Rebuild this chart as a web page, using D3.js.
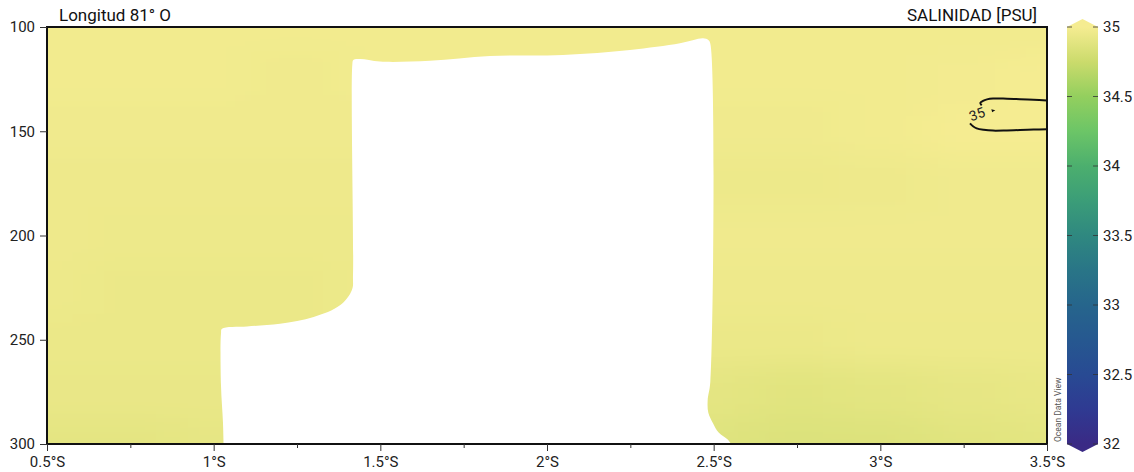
<!DOCTYPE html>
<html><head><meta charset="utf-8">
<script src="https://cdn.jsdelivr.net/npm/d3@7"></script>
<style>
html,body{margin:0;padding:0;background:#fff;}
svg{display:block;font-family:Roboto,"DejaVu Sans",sans-serif;}
</style></head>
<body>
<svg id="chart" width="1134" height="472"></svg>
<script>
// ---- data ----
const title = "Longitud 81° O";
const variableLabel = "SALINIDAD [PSU]";
const lats = [0.5, 0.75, 1.0, 1.25, 1.5, 1.75, 2.0, 2.25, 2.5, 2.75, 3.0, 3.25, 3.5];
const depths = [100, 125, 150, 175, 200, 225, 250, 275, 300];
const salinity = [
  [34.98, 34.98, 34.98, 34.98, 34.98, 34.98, 34.98, 34.98, 34.98, 34.98, 34.98, 34.98, 34.98],
  [34.98, 34.98, 34.98, 34.97, 34.98, 34.98, 34.98, 34.98, 34.98, 34.98, 34.98, 34.99, 35.00],
  [34.97, 34.97, 34.97, 34.97, 34.97, 34.97, 34.97, 34.97, 34.97, 34.97, 34.98, 35.00, 35.01],
  [34.96, 34.96, 34.96, 34.96, 34.96, 34.96, 34.96, 34.96, 34.95, 34.95, 34.96, 34.97, 34.97],
  [34.96, 34.95, 34.95, 34.95, 34.95, 34.96, 34.96, 34.96, 34.97, 34.97, 34.97, 34.97, 34.97],
  [34.95, 34.94, 34.94, 34.94, 34.95, 34.95, 34.95, 34.96, 34.96, 34.96, 34.96, 34.96, 34.96],
  [34.94, 34.94, 34.94, 34.94, 34.94, 34.94, 34.94, 34.94, 34.94, 34.94, 34.95, 34.95, 34.95],
  [34.93, 34.93, 34.93, 34.93, 34.93, 34.93, 34.93, 34.91, 34.90, 34.88, 34.89, 34.91, 34.92],
  [34.90, 34.90, 34.91, 34.91, 34.91, 34.91, 34.90, 34.89, 34.87, 34.85, 34.86, 34.88, 34.89]
];
// no-data (white) region outline
const maskLat =   [1.030, 1.028, 1.022, 1.022, 1.025, 1.10, 1.199, 1.30, 1.379, 1.415, 1.418, 1.416, 1.419, 1.440, 1.499, 1.649, 1.829, 2.048, 2.249, 2.399, 2.468, 2.484, 2.490, 2.490, 2.482, 2.484, 2.498, 2.515, 2.543, 2.56];
const maskDepth = [302,   290,   272,   247,   244.7, 243.6, 242.3, 239.1, 233.5, 226,   219,   118,   115.8, 115.4, 116.6, 116.2, 113.9, 113.4, 111.0, 107.8, 105.4, 106.2, 108,   270,   279,   285,   290,   294.5, 298,   302];
// 35 PSU contour
const contourUpperLat =   [3.304, 3.300, 3.308, 3.320, 3.338, 3.380, 3.419, 3.460, 3.500];
const contourUpperDepth = [137.6, 136.4, 135.4, 134.7, 134.3, 134.4, 134.6, 134.9, 135.2];
const contourLowerLat =   [3.269, 3.278, 3.289, 3.310, 3.338, 3.380, 3.419, 3.460, 3.500];
const contourLowerDepth = [146.2, 147.6, 148.6, 149.3, 149.7, 149.6, 149.4, 149.2, 149.1];
const contourLabel = "35";
// axis ticks
const xTicks = [0.5, 1, 1.5, 2, 2.5, 3, 3.5];
const xMinorTicks = [0.75, 1.25, 1.75, 2.25, 2.75, 3.25];
const yTicks = [100, 150, 200, 250, 300];
const cbTicks = [32, 32.5, 33, 33.5, 34, 34.5, 35];
// colour bar (ODV-like palette)
const cbStops = [32, 32.25, 32.5, 32.75, 33, 33.25, 33.5, 33.75, 34, 34.25, 34.5, 34.75, 35];
const cbColors = ["#3a2a85", "#2f3a92", "#284a93", "#265890", "#26658c", "#297587", "#2f8880", "#3b9d78", "#4caf6e", "#6cc567", "#93cf5e", "#cbdb6c", "#f5ec91"];

// ---- layout ----
const W = 1134, H = 472;
const L = 47, R = 1047, T = 27, B = 444;
const svg = d3.select("#chart");
const x = d3.scaleLinear().domain([0.5, 3.5]).range([L, R]);
const y = d3.scaleLinear().domain([100, 300]).range([T, B]);
const color = d3.scaleLinear().domain(cbStops).range(cbColors).clamp(true);

const defs = svg.append("defs");
defs.append("clipPath").attr("id", "plotclip").append("rect")
  .attr("x", L).attr("y", T).attr("width", R - L).attr("height", B - T);
const f = defs.append("filter").attr("id", "smooth")
  .attr("filterUnits", "userSpaceOnUse")
  .attr("x", -100).attr("y", -100).attr("width", W + 200).attr("height", H + 200);
f.append("feGaussianBlur").attr("stdDeviation", "24 13");

// field
const cells = [];
depths.forEach((d, i) => lats.forEach((la, j) => cells.push({lat: la, depth: d, v: salinity[i][j]})));
const dLat = 0.25, dDep = 25;
const padLat = c => [c.lat === lats[0] ? 0.3 : 0, c.lat === lats[lats.length - 1] ? 0.3 : 0];
const padDep = c => [c.depth === depths[0] ? 30 : 0, c.depth === depths[depths.length - 1] ? 30 : 0];
const plotG = svg.append("g").attr("clip-path", "url(#plotclip)");
const fieldG = plotG.append("g").attr("filter", "url(#smooth)");
fieldG.selectAll("rect").data(cells).join("rect")
  .attr("x", c => x(c.lat - dLat / 2 - padLat(c)[0]))
  .attr("width", c => x(c.lat + dLat / 2 + padLat(c)[1]) - x(c.lat - dLat / 2 - padLat(c)[0]) + 0.5)
  .attr("y", c => y(c.depth - dDep / 2 - padDep(c)[0]))
  .attr("height", c => y(c.depth + dDep / 2 + padDep(c)[1]) - y(c.depth - dDep / 2 - padDep(c)[0]) + 0.5)
  .attr("fill", c => color(c.v));

// mask
const maskPts = maskLat.map((la, i) => [x(la), y(maskDepth[i])]);
plotG.append("path")
  .attr("d", d3.line().curve(d3.curveCatmullRom.alpha(0.5))(maskPts) + "Z")
  .attr("fill", "#fff");

// contour
const cline = d3.line().curve(d3.curveCatmullRom.alpha(0.5));
plotG.append("path")
  .attr("d", cline(contourUpperLat.map((la, i) => [x(la), y(contourUpperDepth[i])])))
  .attr("fill", "none").attr("stroke", "#111").attr("stroke-width", 2);
plotG.append("path")
  .attr("d", cline(contourLowerLat.map((la, i) => [x(la), y(contourLowerDepth[i])])))
  .attr("fill", "none").attr("stroke", "#111").attr("stroke-width", 2);
svg.append("text").text(contourLabel)
  .attr("transform", `translate(${x(3.295)},${y(144)}) rotate(-20)`)
  .attr("text-anchor", "middle").attr("font-size", 14).attr("fill", "#222");
svg.append("path")
  .attr("d", `M${x(3.333)},${y(139.4)} l4,1.2 l-3.2,1.8 Z`)
  .attr("fill", "#111");

// frame
svg.append("rect").attr("x", L).attr("y", T).attr("width", R - L).attr("height", B - T)
  .attr("fill", "none").attr("stroke", "#111").attr("stroke-width", 2);

// axes
const yAx = svg.append("g").attr("transform", `translate(${L},0)`)
  .call(d3.axisLeft(y).tickValues(yTicks).tickSize(7).tickPadding(5).tickFormat(d3.format("d")));
const xAx = svg.append("g").attr("transform", `translate(0,${B})`)
  .call(d3.axisBottom(x).tickValues(xTicks).tickSize(7).tickPadding(5).tickFormat(d => d + "°S"));
const xMin = svg.append("g").attr("transform", `translate(0,${B})`)
  .call(d3.axisBottom(x).tickValues(xMinorTicks).tickSize(4).tickFormat(""));
[yAx, xAx, xMin].forEach(g => {
  g.select(".domain").remove();
  g.selectAll("line").attr("stroke", "#333");
  g.selectAll("text").attr("font-size", 15).attr("fill", "#222").attr("font-family", "Roboto, sans-serif");
});

// titles
svg.append("text").text(title).attr("x", 59).attr("y", 21)
  .attr("font-size", 17).attr("fill", "#111");
svg.append("text").text(variableLabel).attr("x", 1037).attr("y", 21)
  .attr("text-anchor", "end").attr("font-size", 17).attr("fill", "#111");

// colour bar
const cbL = 1067, cbR = 1098;
const yc = d3.scaleLinear().domain([32, 35]).range([B, T]);
const grad = defs.append("linearGradient").attr("id", "cbgrad")
  .attr("x1", 0).attr("y1", 1).attr("x2", 0).attr("y2", 0);
cbStops.forEach((s, i) => grad.append("stop")
  .attr("offset", (s - 32) / 3).attr("stop-color", cbColors[i]));
svg.append("rect").attr("x", cbL).attr("y", T).attr("width", cbR - cbL).attr("height", B - T)
  .attr("fill", "url(#cbgrad)");
svg.append("path").attr("d", `M${cbL},${T} L${(cbL + cbR) / 2},${T - 8} L${cbR},${T} Z`)
  .attr("fill", cbColors[cbColors.length - 1]);
svg.append("path").attr("d", `M${cbL},${B} L${(cbL + cbR) / 2},${B + 8} L${cbR},${B} Z`)
  .attr("fill", cbColors[0]);
const cbG = svg.append("g");
cbTicks.forEach(t => {
  cbG.append("line").attr("x1", cbL).attr("x2", cbL + 5).attr("y1", yc(t)).attr("y2", yc(t))
    .attr("stroke", "#333").attr("stroke-opacity", 0.8);
  cbG.append("line").attr("x1", cbR - 5).attr("x2", cbR).attr("y1", yc(t)).attr("y2", yc(t))
    .attr("stroke", "#333").attr("stroke-opacity", 0.8);
  cbG.append("text").text(d3.format("")(t)).attr("x", 1103).attr("y", yc(t))
    .attr("dy", "0.35em").attr("font-size", 15).attr("fill", "#222");
});
svg.append("text").text("Ocean Data View")
  .attr("transform", `translate(1061,442) rotate(-90)`)
  .attr("font-size", 8.5).attr("fill", "#555");
</script>
</body></html>
